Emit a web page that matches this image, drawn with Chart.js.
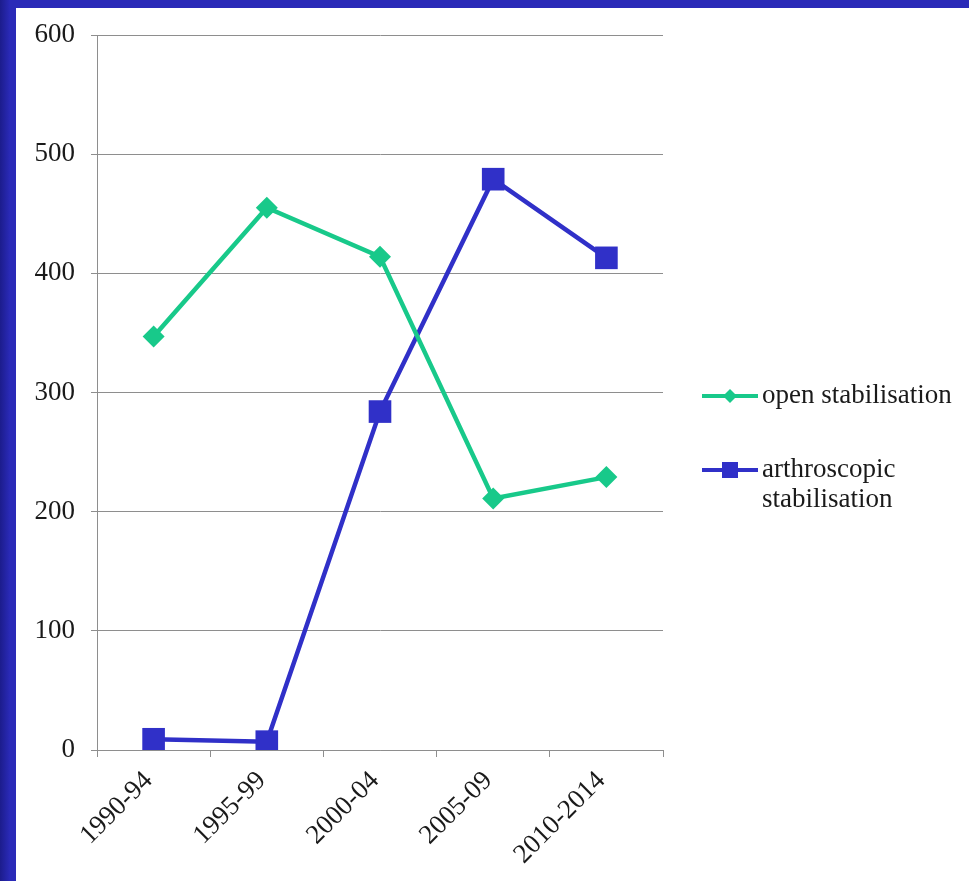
<!DOCTYPE html>
<html>
<head>
<meta charset="utf-8">
<script src="https://cdn.jsdelivr.net/npm/chart.js@4/dist/chart.umd.min.js"></script>
<style>
  html, body { margin: 0; padding: 0; width: 969px; height: 881px; overflow: hidden; }
  body { background: linear-gradient(to right, #1c1c8c 0px, #2a2ab8 10px, #2a2ab8 969px); position: relative; }
  #wrap { position: absolute; left: 16px; top: 8px; width: 953px; height: 873px; background: #ffffff; }
  canvas { display: block; }
</style>
</head>
<body>
<div id="wrap"><canvas id="c" width="953" height="873"></canvas></div>
<script>
const categories = ["1990-94", "1995-99", "2000-04", "2005-09", "2010-2014"];
const openStabilisation = [347, 455, 414, 211, 229];
const arthroscopicStabilisation = [9, 7, 284, 479, 413];
const yTicks = [0, 100, 200, 300, 400, 500, 600];
const seriesNames = ["open stabilisation", ["arthroscopic", "stabilisation"]];

const GREEN = '#18C98A';
const BLUE = '#3030C8';
const GRID = '#8e8e8e';
const FONT = "'Liberation Serif', 'Times New Roman', serif";

const legendPlugin = {
  id: 'sideLegend',
  afterDraw(chart) {
    const ctx = chart.ctx;
    const items = [
      { y: 388, color: GREEN, style: 'diamond', lines: [seriesNames[0]] },
      { y: 462, color: BLUE, style: 'square', lines: seriesNames[1] }
    ];
    ctx.save();
    ctx.font = "27px " + FONT;
    ctx.textBaseline = 'middle';
    ctx.textAlign = 'left';
    items.forEach(it => {
      ctx.strokeStyle = it.color;
      ctx.lineWidth = 4;
      ctx.beginPath();
      ctx.moveTo(686, it.y);
      ctx.lineTo(742, it.y);
      ctx.stroke();
      ctx.fillStyle = it.color;
      const cx = 714;
      if (it.style === 'diamond') {
        ctx.beginPath();
        ctx.moveTo(cx, it.y - 7);
        ctx.lineTo(cx + 7, it.y);
        ctx.lineTo(cx, it.y + 7);
        ctx.lineTo(cx - 7, it.y);
        ctx.closePath();
        ctx.fill();
      } else {
        ctx.fillRect(cx - 8, it.y - 8, 16, 16);
      }
      ctx.fillStyle = '#1a1a1a';
      it.lines.forEach((t, i) => ctx.fillText(t, 746, it.y + i * 30));
    });
    ctx.restore();
  }
};

new Chart(document.getElementById('c'), {
  type: 'line',
  data: {
    labels: categories,
    datasets: [
      {
        label: 'open stabilisation',
        data: openStabilisation,
        borderColor: GREEN,
        backgroundColor: GREEN,
        borderWidth: 4.5,
        pointStyle: 'rectRot',
        pointRadius: 11,
        pointBorderWidth: 0,
        tension: 0
      },
      {
        label: 'arthroscopic stabilisation',
        data: arthroscopicStabilisation,
        borderColor: BLUE,
        backgroundColor: BLUE,
        borderWidth: 4.5,
        pointStyle: 'rect',
        pointRadius: 16,
        pointBorderWidth: 0,
        tension: 0
      }
    ]
  },
  options: {
    responsive: false,
    animation: false,
    devicePixelRatio: 1,
    layout: { padding: { left: 0, right: 306, top: 27, bottom: 0 } },
    plugins: { legend: { display: false }, tooltip: { enabled: false } },
    scales: {
      x: {
        type: 'category',
        offset: true,
        afterFit(s) { s.height = 131; s.paddingLeft = 0; s.paddingRight = 0; },
        grid: { display: true, offset: true, drawOnChartArea: false, color: GRID, tickLength: 7, lineWidth: 1 },
        border: { display: true, color: GRID, width: 1 },
        ticks: { color: '#1a1a1a', font: { family: FONT, size: 27 }, maxRotation: 45, minRotation: 45, padding: 8, labelOffset: -5 }
      },
      y: {
        min: 0, max: 600,
        afterFit(s) { s.width = 81; s.paddingTop = 0; s.paddingBottom = 0; },
        afterBuildTicks(s) { s.ticks = yTicks.map(v => ({ value: v })); },
        grid: { color: GRID, lineWidth: 1, tickLength: 6 },
        border: { display: true, color: GRID, width: 1 },
        ticks: { color: '#1a1a1a', font: { family: FONT, size: 27 }, padding: 16 }
      }
    }
  },
  plugins: [legendPlugin]
});
</script>
</body>
</html>
